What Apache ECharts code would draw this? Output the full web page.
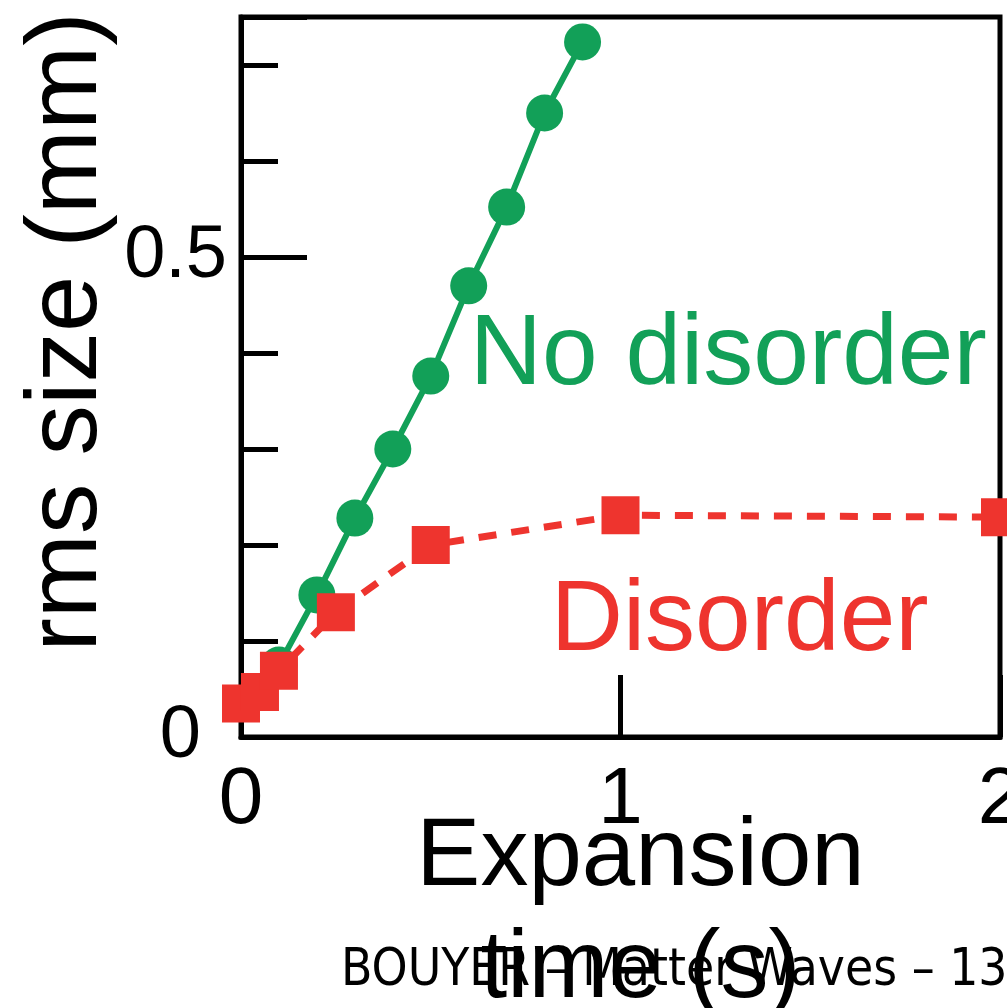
<!DOCTYPE html>
<html>
<head>
<meta charset="utf-8">
<script src="https://cdn.jsdelivr.net/npm/echarts@6/dist/echarts.min.js"></script>
<style>
html,body{margin:0;padding:0;background:#fff;}
#chart{width:1007px;height:1008px;}
</style>
</head>
<body>
<div id="chart"></div>
<script>
// Data (expansion time in s, rms size in mm)
const noDisorderT = [0.1, 0.2, 0.3, 0.4, 0.5, 0.6, 0.7, 0.8, 0.9];
const noDisorderV = [0.075, 0.148, 0.228, 0.300, 0.376, 0.470, 0.552, 0.650, 0.724];
const disorderT = [0, 0.05, 0.1, 0.25, 0.5, 1, 2];
const disorderV = [0.035, 0.047, 0.069, 0.130, 0.200, 0.231, 0.229];
const yTickLabels = [0, 0.5];
const xTickLabels = [0, 1, 2];

const GREEN = '#12a058';
const RED = '#ee342e';
const FONT = 'Liberation Sans';

const chart = echarts.init(document.getElementById('chart'), null, {renderer: 'canvas'});

const option = {
  backgroundColor: '#fff',
  animation: false,
  title: {
    text: 'BOUYER – Matter Waves – 13',
    left: 336, top: 941,
    textStyle: {fontFamily: 'DejaVu Sans Condensed', fontSize: 51, fontWeight: 'normal', color: '#000'}
  },
  grid: {
    left: 241, right: 7, top: 17, bottom: 271,
    containLabel: false, outerBoundsMode: 'none',
    show: true, borderColor: '#000', borderWidth: 5, backgroundColor: 'transparent'
  },
  xAxis: {
    type: 'value', min: 0, max: 2, interval: 1,
    axisLine: {show: true, lineStyle: {color: '#000', width: 5}},
    axisTick: {show: true, inside: true, length: 62, lineStyle: {color: '#000', width: 5}},
    splitLine: {show: false},
    axisLabel: {
      fontFamily: FONT, fontSize: 80, color: '#000', margin: 24,
      formatter: v => xTickLabels.indexOf(v) >= 0 ? String(v) : ''
    },
    name: 'Expansion\ntime (s)',
    nameLocation: 'middle', nameGap: 66, nameMoveOverlap: false,
    nameTextStyle: {fontFamily: FONT, fontSize: 96, color: '#000', lineHeight: 112, padding: [0, 0, 0, 40]}
  },
  yAxis: [{
    type: 'value', min: 0, max: 0.75, interval: 0.5,
    axisLine: {show: true, lineStyle: {color: '#000', width: 5}},
    axisTick: {show: true, inside: true, length: 66, lineStyle: {color: '#000', width: 5}},
    splitLine: {show: false},
    axisLabel: {
      fontFamily: FONT, fontSize: 74, color: '#000', margin: 14,
      formatter: v => {
        if (v === 0) return '{z|0}';
        return yTickLabels.indexOf(v) >= 0 ? String(v) : '';
      },
      rich: {z: {fontFamily: FONT, fontSize: 74, color: '#000', padding: [0, 26, 0, 0]}}
    },
    name: 'rms size (mm)',
    nameLocation: 'middle', nameGap: 122, nameMoveOverlap: false,
    nameTextStyle: {fontFamily: FONT, fontSize: 101, color: '#000', padding: [0, 0, 0, 90]}
  }, {
    type: 'value', min: 0, max: 0.75, interval: 0.1, position: 'left',
    axisLine: {show: false},
    axisTick: {show: true, inside: true, length: 37, lineStyle: {color: '#000', width: 5}},
    axisLabel: {show: false},
    splitLine: {show: false}
  }],
  series: [{
    name: 'No disorder', type: 'line', yAxisIndex: 0,
    data: noDisorderT.map((t, i) => [t, noDisorderV[i]]),
    symbol: 'circle', symbolSize: 37,
    lineStyle: {color: GREEN, width: 6},
    itemStyle: {color: GREEN},
    clip: false, z: 2,
    markPoint: {
      symbol: 'circle', symbolSize: 0,
      data: [{coord: [0.603, 0.396], value: 'No disorder'}],
      label: {show: true, position: 'right', distance: 0, formatter: 'No disorder',
        fontFamily: FONT, fontSize: 100, color: GREEN}
    }
  }, {
    name: 'Disorder', type: 'line', yAxisIndex: 0,
    data: disorderT.map((t, i) => [t, disorderV[i]]),
    symbol: 'rect', symbolSize: 38,
    lineStyle: {color: RED, width: 7, type: [18, 15]},
    itemStyle: {color: RED},
    clip: false, z: 3,
    markPoint: {
      symbol: 'circle', symbolSize: 0,
      data: [{coord: [0.816, 0.119], value: 'Disorder'}],
      label: {show: true, position: 'right', distance: 0, formatter: 'Disorder',
        fontFamily: FONT, fontSize: 100, color: RED}
    }
  }]
};
chart.setOption(option);
</script>
</body>
</html>
